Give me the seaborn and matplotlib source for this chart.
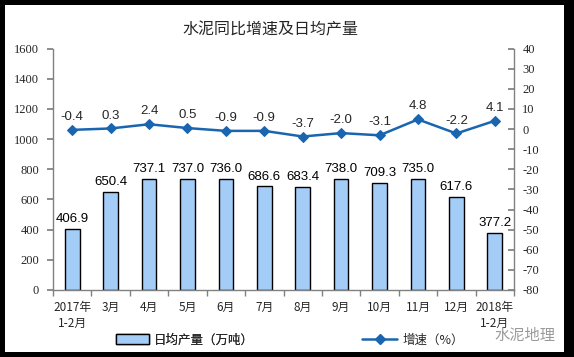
import matplotlib
matplotlib.use("Agg")
import matplotlib.pyplot as plt
import seaborn as sns
import pandas as pd
import numpy as np
from matplotlib.patches import Rectangle, Patch
from matplotlib.lines import Line2D

categories = ["2017年\n1-2月", "3月", "4月", "5月", "6月", "7月", "8月", "9月", "10月", "11月", "12月", "2018年\n1-2月"]
daily_output = [406.9, 650.4, 737.1, 737.0, 736.0, 686.6, 683.4, 738.0, 709.3, 735.0, 617.6, 377.2]
growth = [-0.4, 0.3, 2.4, 0.5, -0.9, -0.9, -3.7, -2.0, -3.1, 4.8, -2.2, 4.1]
left_ticks = [0, 200, 400, 600, 800, 1000, 1200, 1400, 1600]
right_ticks = [-80, -70, -60, -50, -40, -30, -20, -10, 0, 10, 20, 30, 40]

sns.set_theme(style="white")
plt.rcParams['font.family'] = ['Noto Sans CJK SC', 'DejaVu Sans']

W, H = 574, 357
fig = plt.figure(figsize=(W / 100, H / 100), dpi=100, facecolor="black")
bg = Rectangle((5 / W, 1 - 352 / H), (564 - 5) / W, (352 - 5) / H,
               transform=fig.transFigure, facecolor="white", edgecolor="none", zorder=-10)
fig.patches.append(bg)

ax = fig.add_axes([53 / W, 1 - 290 / H, (514 - 53) / W, (290 - 48.6) / H])
ax.set_facecolor("none")
df = pd.DataFrame({"cat": categories, "val": daily_output, "g": growth})
x = np.arange(len(categories))

sns.barplot(data=df, x="cat", y="val", ax=ax, color="#a3cdf7", width=0.38,
            edgecolor="black", linewidth=1.0, saturation=1)
ax.set_ylim(0, 1600)
ax.set_xlim(-0.5, len(categories) - 0.5)
ax.set_yticks(left_ticks)
ax.set_yticklabels([str(t) for t in left_ticks], family=["Liberation Serif"], fontsize=9)
ax.set_xlabel("")
ax.set_ylabel("")
for i, v in enumerate(daily_output):
    ax.text(i, v + 25, f"{v:.1f}", ha="center", va="bottom", fontsize=9.5,
            family=["Liberation Sans"], color="black")

ax.set_xticks(x)
ax.set_xticklabels(categories, fontsize=8.5, va="top", linespacing=1.3)
ax.tick_params(axis="x", length=0, pad=8)
ax.set_xticks(np.arange(-0.5, len(categories), 1), minor=True)
ax.tick_params(axis="x", which="minor", length=4, color="#808080", direction="out", bottom=True)
ax.tick_params(axis="y", length=4, color="#808080", direction="out", left=True, pad=6)

for s in ["top", "right"]:
    ax.spines[s].set_visible(False)
for s in ["left", "bottom"]:
    ax.spines[s].set_color("#808080")
    ax.spines[s].set_linewidth(1.0)

ax2 = ax.twinx()
ax2.set_facecolor("none")
sns.lineplot(x=x, y=growth, ax=ax2, color="#1a65b0", linewidth=1.8, marker="D",
             markersize=5, markeredgecolor="#1a65b0", legend=False)
ax2.set_ylim(-80, 40)
ax2.set_yticks(right_ticks)
ax2.set_yticklabels([str(t) for t in right_ticks], family=["Liberation Serif"], fontsize=9)
ax2.tick_params(axis="y", length=4, color="#808080", direction="in", right=True, pad=6)
for s in ["top", "left", "bottom"]:
    ax2.spines[s].set_visible(False)
ax2.spines["right"].set_color("#808080")
ax2.spines["right"].set_linewidth(1.0)
ax2.set_ylabel("")
for i, g in enumerate(growth):
    ax2.annotate(f"{g:.1f}", (i, g), xytext=(0, 5), textcoords="offset points",
                 ha="center", va="bottom", fontsize=9.5, family=["Liberation Sans"])

fig.text(270 / W, 1 - 30 / H, "水泥同比增速及日均产量", ha="center", va="center", fontsize=11.5)

handles = [Patch(facecolor="#a3cdf7", edgecolor="black", linewidth=1.0),
           Line2D([0], [0], color="#1a65b0", lw=1.8, marker="D", markersize=5)]
leg1 = fig.legend([handles[0]], ["日均产量（万吨）"], loc="center left",
                  bbox_to_anchor=(105 / W, 1 - 340 / H), frameon=False, fontsize=9,
                  handlelength=2.6, handleheight=0.8, handletextpad=0.4)
leg2 = fig.legend([handles[1]], ["增速（%）"], loc="center left",
                  bbox_to_anchor=(351 / W, 1 - 340 / H), frameon=False, fontsize=9,
                  handlelength=2.8, handletextpad=0.4)
fig.add_artist(leg1)

fig.text(555 / W, 1 - 335 / H, "水泥地理", ha="right", va="center", fontsize=11, color="#9a9a9a")

fig.savefig("out.png", dpi=100, facecolor="black")
